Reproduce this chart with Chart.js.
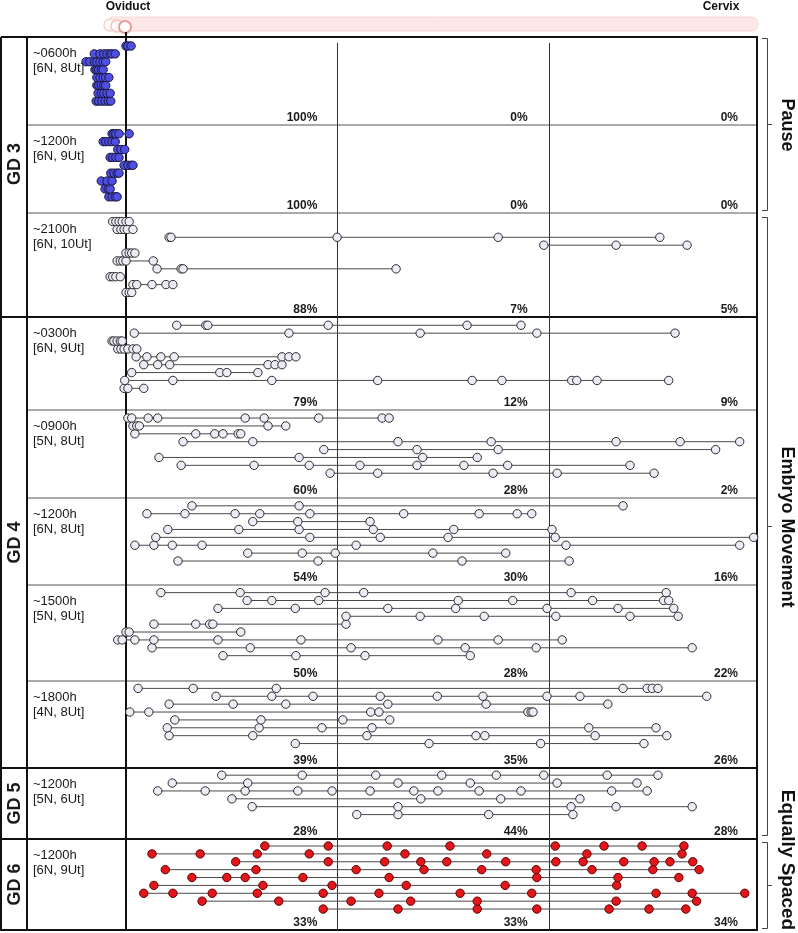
<!DOCTYPE html>
<html>
<head>
<meta charset="utf-8">
<script src="https://cdn.jsdelivr.net/npm/chart.js@4"></script>
<style>
  body { margin: 0; background: #fff; }
  canvas { display: block; }
</style>
</head>
<body>
<canvas id="embryo-chart" width="798" height="933"></canvas>
<script>
// Embryo positions along each uterine horn, in % of horn length
// (0 = oviduct end, 100 = cervix end). One inner array per horn.
const gd3_0600 = [
    [0, 0.3, 0.8],
    [-5.0, -4.1, -3.5, -3.0, -2.5, -2.2, -1.7],
    [-6.3, -5.7, -5.0, -4.6, -4.1, -3.6, -3.2],
    [-4.9, -4.6, -4.3, -3.9, -3.6],
    [-4.6, -4.1, -3.6, -3.2, -2.7],
    [-4.6, -4.3, -3.9, -3.5, -3.2],
    [-4.4, -3.9, -3.5, -3.0, -2.5],
    [-4.7, -4.3, -3.8, -3.3, -2.8, -2.4]
];
const gd3_1200 = [
    [-2.2, -1.9, -1.6, -1.1, 0.5],
    [-3.6, -3.2, -2.7, -2.2, -1.7],
    [-1.3, -0.8, -0.2],
    [-2.5, -2.1, -1.6, -1.1],
    [-0.3, 0.3, 0.8, 1.1],
    [-2.4, -1.9, -1.4, -1.1],
    [-3.9, -3.0, -2.2],
    [-3.3, -2.8, -2.5],
    [-2.7, -2.2, -1.7, -1.4]
];
const gd3_2100 = [
    [-2.1, -1.6, -1.1, -0.6, 0, 0.5],
    [-1.4, -0.8, -0.3, 0.2, 1.1],
    [6.8, 7.1, 33.3, 58.7, 84.2],
    [65.9, 77.3, 88.5],
    [0, 0.5, 0.9, 1.4],
    [-1.4, -0.9, -0.5, 0, 4.3],
    [4.9, 8.7, 9.0, 42.6],
    [-2.5, -2.1, -1.6, -0.9],
    [1.1, 1.7, 4.1, 6.3, 7.4],
    [0, 0.5, 0.9]
];
const gd4_0300 = [
    [8.0, 12.6, 12.9, 31.9, 53.8, 62.3],
    [1.3, 25.7, 46.4, 64.8, 86.6],
    [-2.2, -1.9, -1.4, -0.9, -0.6],
    [-1.3, -0.8, -0.3, 0.3, 1.1, 1.7],
    [1.6, 3.3, 5.5, 7.6, 24.6, 25.7, 26.8],
    [2.8, 5.0, 6.9, 22.4, 23.5, 24.6],
    [0.9, 14.8, 15.9, 20.8],
    [-0.2, 7.4, 23.0, 39.7, 54.6, 59.3, 70.3, 71.1, 74.3, 85.6],
    [-0.3, 0.3, 2.8]
];
const gd4_0900 = [
    [0.3, 0.9, 3.5, 5.0, 18.8, 21.8, 30.4, 40.4, 41.5],
    [1.1, 1.7, 2.1, 22.4, 25.2],
    [1.4, 11.0, 14.0, 15.3, 17.7, 18.1],
    [9.0, 20.0, 42.9, 57.6, 77.3, 87.4, 96.8],
    [31.2, 45.9, 58.7, 93.0],
    [5.2, 27.3, 46.8, 55.4],
    [8.7, 20.2, 28.9, 36.9, 45.9, 53.3, 60.2, 79.5],
    [32.2, 39.7, 57.9, 68.0, 83.3]
];
const gd4_1200 = [
    [10.4, 27.3, 78.4],
    [3.3, 9.3, 17.2, 21.1, 29.0, 43.8, 55.7, 61.7, 64.0],
    [20.0, 27.1, 38.5],
    [6.6, 17.8, 27.3, 39.0, 51.7, 67.2],
    [4.7, 29.0, 40.1, 50.8, 67.7, 99.0],
    [1.4, 4.4, 7.3, 12.0, 36.3, 69.4, 96.8],
    [19.2, 27.8, 33.0, 48.4, 59.9],
    [8.2, 30.3, 53.0, 69.9]
];
const gd4_1500 = [
    [5.5, 18.0, 31.4, 37.5, 70.2, 85.2],
    [19.1, 23.0, 30.4, 52.4, 61.0, 73.6, 84.8, 85.6],
    [14.5, 26.7, 41.3, 52.0, 66.4, 77.6, 86.4],
    [34.7, 46.4, 56.5, 67.8, 79.5, 87.1],
    [4.4, 11.0, 13.2, 13.7, 34.7],
    [0, 0.5, 18.1],
    [-1.3, -0.6, 1.4, 4.4, 14.5, 27.6, 49.2, 58.7, 68.8],
    [4.1, 19.6, 35.5, 53.5, 64.7, 89.3],
    [15.3, 26.8, 37.7, 54.3]
];
const gd4_1800 = [
    [1.9, 10.6, 23.7, 78.4, 82.2, 83.0, 83.9],
    [14.2, 23.0, 29.5, 40.1, 49.1, 56.3, 66.4, 71.6, 91.6],
    [6.8, 16.9, 25.2, 41.3, 56.8, 76.0],
    [0.6, 3.6, 38.6, 39.9, 63.4, 63.9, 64.2],
    [7.7, 21.3, 34.2, 41.6],
    [6.5, 21.0, 30.9, 38.8, 73.0, 83.6],
    [6.8, 20.0, 38.0, 55.2, 56.6, 74.0, 85.3],
    [26.7, 47.8, 65.4, 81.7]
];
const gd5_1200 = [
    [15.1, 27.8, 39.4, 49.8, 58.4, 65.9, 75.9, 83.9],
    [7.3, 19.2, 42.9, 54.3, 68.0, 80.6],
    [5.0, 12.5, 18.8, 27.1, 32.5, 38.5, 45.4, 49.2, 55.7, 62.3, 76.6, 82.2],
    [16.7, 46.5, 59.1, 71.6],
    [19.9, 42.9, 70.2, 77.3, 89.3],
    [36.4, 42.9, 57.2, 70.5]
];
const gd6_1200 = [
    [21.9, 31.9, 41.2, 51.1, 67.7, 75.4, 81.4, 88.0],
    [4.1, 11.7, 20.7, 28.9, 44.0, 56.9, 72.7, 87.7],
    [17.3, 31.9, 40.8, 46.5, 50.6, 59.9, 67.8, 72.1, 78.5, 83.3, 85.8, 89.4],
    [6.2, 20.5, 36.3, 47.0, 56.1, 64.7, 73.5, 83.1, 90.4],
    [10.4, 15.9, 18.8, 27.9, 41.5, 64.8, 77.6, 87.2],
    [4.4, 21.6, 32.5, 44.2, 59.8, 77.4],
    [2.8, 7.4, 13.6, 20.7, 31.1, 39.9, 52.7, 64.0, 83.6, 89.3, 97.6],
    [12.0, 24.1, 35.5, 44.9, 55.4, 77.3, 90.0],
    [31.1, 42.9, 55.4, 64.8, 76.2, 82.5, 88.3]
];

const panelHorns = [gd3_0600, gd3_1200, gd3_2100, gd4_0300, gd4_0900, gd4_1200, gd4_1500, gd4_1800, gd5_1200, gd6_1200];
const panelTimes = ['~0600h', '~1200h', '~2100h', '~0300h', '~0900h', '~1200h', '~1500h', '~1800h', '~1200h', '~1200h'];
const panelCounts = ['[6N, 8Ut]', '[6N, 9Ut]', '[6N, 10Ut]', '[6N, 9Ut]', '[5N, 8Ut]', '[6N, 8Ut]', '[5N, 9Ut]', '[4N, 8Ut]', '[5N, 6Ut]', '[6N, 9Ut]'];
const panelKinds = ['blue', 'blue', 'light', 'light', 'light', 'light', 'light', 'light', 'light', 'red'];
// share of embryos in oviduct third / middle third / cervix third
const pctOviductThird = [100, 100, 88, 79, 60, 54, 50, 39, 28, 33];
const pctMiddleThird = [0, 0, 7, 12, 28, 30, 28, 35, 44, 33];
const pctCervixThird = [0, 0, 5, 9, 2, 16, 22, 26, 28, 34];

const groupLabels = ['GD 3', 'GD 4', 'GD 5', 'GD 6'];
const groupFirstPanel = [0, 3, 8, 9];
const phaseLabels = ['Pause', 'Embryo Movement', 'Equally Spaced'];

// layout (canvas pixels)
const panelEdges = [37, 125, 213, 317, 410, 498, 585, 681, 768, 839, 930];
const frameLeft = 1, gdColRight = 27, frameRight = 757;
const oviductX = 126, cervixX = 760, xMin = -8;
const rowOffset = 9, rowGap = 7.9;
const phaseSpans = [[38, 210, 125], [217, 835, 527], [842, 928, 860]];
const phaseFonts = ['bold 18px', 'bold 18px', 'bold 19px'];

const styles = {
    blue: { fill: '#4f4fe4', edge: '#16163c' },
    light: { fill: '#ececf7', edge: '#2b2b2b' },
    red: { fill: '#e2171c', edge: '#5c0000' }
};

const FONT = '"Liberation Sans", Arial, sans-serif';

// one dataset per uterine horn
const datasets = [];
panelHorns.forEach((horns, p) => {
    const st = styles[panelKinds[p]];
    horns.forEach((horn, i) => {
        const y = panelEdges[p] + rowOffset + i * rowGap;
        datasets.push({
            data: horn.map(v => ({ x: v, y: y })),
            showLine: true,
            borderColor: '#4a4a4a',
            borderWidth: 1,
            pointRadius: 4.2,
            pointBackgroundColor: st.fill,
            pointBorderColor: st.edge,
            pointBorderWidth: 1,
            clip: false
        });
    });
});

function line(ctx, x1, y1, x2, y2, w, c) {
    ctx.beginPath();
    ctx.lineWidth = w;
    ctx.strokeStyle = c;
    ctx.moveTo(x1, y1);
    ctx.lineTo(x2, y2);
    ctx.stroke();
}

// grid, frame, slider and text
const framePlugin = {
    id: 'frame',
    beforeDatasetsDraw(chart) {
        const ctx = chart.ctx;
        const xs = chart.scales.x;
        ctx.save();

        // oviduct -> cervix slider at the top
        ctx.fillStyle = '#fde8e8';
        ctx.strokeStyle = '#f9d6d6';
        ctx.lineWidth = 1;
        ctx.beginPath();
        ctx.roundRect(107, 17, 651, 14, 6);
        ctx.fill();
        ctx.stroke();
        [[110, 25, '#f6d2d2'], [117, 26, '#f3c4c4']].forEach(([cx, cy, c]) => {
            ctx.beginPath();
            ctx.arc(cx, cy, 6, 0, Math.PI * 2);
            ctx.fillStyle = 'rgba(255,255,255,0.7)';
            ctx.fill();
            ctx.lineWidth = 1.5;
            ctx.strokeStyle = c;
            ctx.stroke();
        });
        ctx.beginPath();
        ctx.arc(125, 27, 6, 0, Math.PI * 2);
        ctx.fillStyle = '#fff';
        ctx.fill();
        ctx.lineWidth = 2;
        ctx.strokeStyle = '#e79a9a';
        ctx.stroke();

        ctx.fillStyle = '#111';
        ctx.font = 'bold 12px ' + FONT;
        ctx.textAlign = 'center';
        ctx.textBaseline = 'alphabetic';
        ctx.fillText('Oviduct', 128, 10);
        ctx.fillText('Cervix', 721, 10);

        // panel separators
        const thick = [0, 3, 8, 9, 10];
        panelEdges.forEach((y, i) => {
            if (thick.includes(i)) line(ctx, frameLeft, y, frameRight + 1, y, 2, '#111');
            else line(ctx, gdColRight, y, frameRight, y, 1, '#555');
        });
        line(ctx, frameLeft, panelEdges[0], frameLeft, 931, 2, '#111');
        line(ctx, gdColRight, panelEdges[0], gdColRight, 931, 2, '#111');
        line(ctx, frameRight, panelEdges[0], frameRight, 931, 2, '#111');

        // thirds of the horn and the oviduct line
        [100 / 3, 200 / 3].forEach(v => {
            const x = Math.round(xs.getPixelForValue(v)) + 0.5;
            line(ctx, x, 43, x, 930, 1, '#333');
        });
        const x0 = Math.round(xs.getPixelForValue(0));
        line(ctx, x0, 32, x0, 930, 2, '#111');
        ctx.restore();
    },
    afterDatasetsDraw(chart) {
        const ctx = chart.ctx;
        const xs = chart.scales.x;
        ctx.save();
        ctx.fillStyle = '#1a1a1a';

        // time / sample labels
        ctx.textAlign = 'left';
        ctx.textBaseline = 'alphabetic';
        ctx.font = '13px ' + FONT;
        panelTimes.forEach((t, p) => {
            ctx.fillText(t, 33, panelEdges[p] + 20);
            ctx.fillText(panelCounts[p], 33, panelEdges[p] + 35);
        });

        // percentages per third
        ctx.textAlign = 'right';
        ctx.font = 'bold 12px ' + FONT;
        const r1 = xs.getPixelForValue(100 / 3) - 20;
        const r2 = xs.getPixelForValue(200 / 3) - 21;
        const r3 = frameRight - 19;
        panelTimes.forEach((t, p) => {
            const yb = panelEdges[p + 1] - 4;
            ctx.fillText(pctOviductThird[p] + '%', r1, yb);
            ctx.fillText(pctMiddleThird[p] + '%', r2, yb);
            ctx.fillText(pctCervixThird[p] + '%', r3, yb);
        });

        // gestation day labels
        ctx.font = 'bold 18px ' + FONT;
        ctx.textAlign = 'center';
        ctx.textBaseline = 'middle';
        groupLabels.forEach((g, i) => {
            const top = panelEdges[groupFirstPanel[i]];
            const bottom = panelEdges[i + 1 < groupFirstPanel.length ? groupFirstPanel[i + 1] : panelEdges.length - 1];
            let cy = (top + bottom) / 2;
            if (i === 0) cy = 164;
            ctx.save();
            ctx.translate(14, cy);
            ctx.rotate(-Math.PI / 2);
            ctx.fillText(g, 0, 1);
            ctx.restore();
        });

        // phase brackets on the right
        phaseSpans.forEach(([a, b, mid], i) => {
            ctx.strokeStyle = '#444';
            ctx.lineWidth = 1;
            ctx.beginPath();
            ctx.moveTo(762, a + 0.5);
            ctx.lineTo(767.5, a + 0.5);
            ctx.lineTo(767.5, b + 0.5);
            ctx.lineTo(762, b + 0.5);
            ctx.moveTo(767.5, (a + b) / 2 + 0.5);
            ctx.lineTo(772, (a + b) / 2 + 0.5);
            ctx.stroke();
            ctx.save();
            ctx.translate(787, mid);
            ctx.rotate(Math.PI / 2);
            ctx.font = phaseFonts[i] + ' ' + FONT;
            ctx.fillStyle = '#111';
            ctx.fillText(phaseLabels[i], 0, 0);
            ctx.restore();
        });
        ctx.restore();
    }
};

// chart area starts left of the oviduct so that embryos still in the oviduct are drawn
const pxPerUnit = (cervixX - oviductX) / 100;
const ctx = document.getElementById('embryo-chart').getContext('2d');
new Chart(ctx, {
    type: 'scatter',
    data: { datasets: datasets },
    options: {
        responsive: false,
        animation: false,
        devicePixelRatio: 1,
        layout: { padding: { left: oviductX + xMin * pxPerUnit, right: 798 - cervixX, top: 37, bottom: 3 } },
        plugins: {
            legend: { display: false },
            tooltip: { enabled: false }
        },
        scales: {
            x: { type: 'linear', display: false, min: xMin, max: 100 },
            y: { type: 'linear', display: false, min: 37, max: 930, reverse: true }
        }
    },
    plugins: [framePlugin]
});
</script>
</body>
</html>
